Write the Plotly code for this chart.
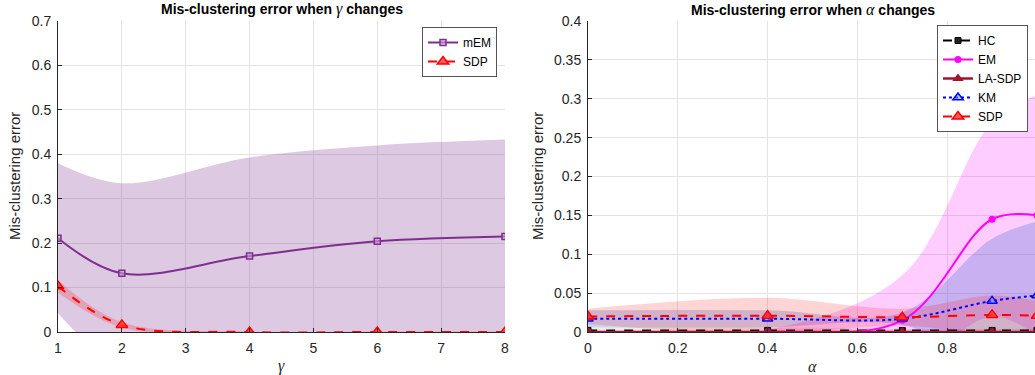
import plotly.graph_objects as go

# ---------------- data: left panel (gamma) ----------------
gamma = [1, 2, 4, 6, 8]
mem_mean = [0.211, 0.132, 0.171, 0.204, 0.215]
mem_upper = [0.380, 0.335, 0.393, 0.420, 0.433]
mem_lower = [0.042, -0.071, -0.051, -0.012, -0.003]
sdp_g_mean = [0.103, 0.016, 0.0, 0.0, 0.0]
sdp_g_upper = [0.117, 0.022, 0.001, 0.001, 0.001]
sdp_g_lower = [0.089, 0.010, -0.001, -0.001, -0.001]

# ---------------- data: right panel (alpha) ----------------
alpha = [0.0, 0.4, 0.7, 0.9, 1.0]
hc_mean = [0.002, 0.002, 0.002, 0.002, 0.002]
hc_upper = [0.006, 0.006, 0.004, 0.004, 0.004]
hc_lower = [-0.002, -0.002, 0.0, 0.0, 0.0]
em_mean = [0.0, 0.0, 0.015, 0.145, 0.150]
em_upper = [0.0, 0.003, 0.073, 0.270, 0.305]
em_lower = [0.0, -0.003, -0.043, 0.020, -0.005]
lasdp_mean = [0.0, 0.0, 0.0, 0.0, 0.0]
km_mean = [0.017, 0.017, 0.017, 0.040, 0.047]
km_upper = [0.028, 0.028, 0.025, 0.120, 0.142]
km_lower = [0.006, 0.006, 0.009, -0.040, -0.048]
sdp_a_mean = [0.020, 0.021, 0.019, 0.022, 0.021]
sdp_a_upper = [0.030, 0.044, 0.030, 0.047, 0.040]
sdp_a_lower = [0.010, -0.002, 0.008, -0.003, 0.002]

y_ticks_left = [0, 0.1, 0.2, 0.3, 0.4, 0.5, 0.6, 0.7]
y_ticks_right = [0, 0.05, 0.1, 0.15, 0.2, 0.25, 0.3, 0.35, 0.4]
x_ticks_left = [1, 2, 3, 4, 5, 6, 7, 8]
x_ticks_right = [0, 0.2, 0.4, 0.6, 0.8, 1]

FONT = "Liberation Sans, Arial, Helvetica, sans-serif"
SERIF = "Liberation Serif, DejaVu Serif, serif"
TXT = "#262626"
W, H = 1035, 375


def px_x(p):
    return p / W


def px_y(p):
    return 1 - p / H


fig = go.Figure()


def band(x, up, lo, color, xa, ya):
    fig.add_trace(go.Scatter(x=x, y=up, mode="lines", line=dict(width=0, shape="spline"),
                             showlegend=False, hoverinfo="skip", xaxis=xa, yaxis=ya))
    fig.add_trace(go.Scatter(x=x, y=lo, mode="lines", line=dict(width=0, shape="spline"),
                             fill="tonexty", fillcolor=color, showlegend=False,
                             hoverinfo="skip", xaxis=xa, yaxis=ya))


# left bands
band(gamma, mem_upper, mem_lower, "rgba(126,47,142,0.26)", "x", "y")
band(gamma, sdp_g_upper, sdp_g_lower, "rgba(255,0,0,0.2)", "x", "y")

# right bands
band(alpha, hc_upper, hc_lower, "rgba(0,0,0,0.08)", "x2", "y2")
band(alpha, em_upper, em_lower, "rgba(255,0,255,0.2)", "x2", "y2")
band(alpha, km_upper, km_lower, "rgba(40,90,200,0.25)", "x2", "y2")
band(alpha, sdp_a_upper, sdp_a_lower, "rgba(255,0,0,0.17)", "x2", "y2")

# left lines
fig.add_trace(go.Scatter(x=gamma, y=mem_mean, name="mEM", mode="lines+markers",
                         line=dict(color="#7E2F8E", width=2, shape="spline"),
                         marker=dict(symbol="square", size=6, color="rgba(200,160,210,0.6)",
                                     line=dict(color="#7E2F8E", width=1.5)),
                         xaxis="x", yaxis="y", legend="legend"))
fig.add_trace(go.Scatter(x=gamma, y=sdp_g_mean, name="SDP", mode="lines+markers",
                         line=dict(color="#FF0000", width=2, dash="dash", shape="spline"),
                         marker=dict(symbol="triangle-up", size=10, color="rgba(255,60,60,0.85)",
                                     line=dict(color="#FF0000", width=1.5)),
                         xaxis="x", yaxis="y", legend="legend"))

# right lines
fig.add_trace(go.Scatter(x=alpha, y=hc_mean, name="HC", mode="lines+markers",
                         line=dict(color="#000000", width=2, dash="dash", shape="spline"),
                         marker=dict(symbol="square", size=6, color="#222222",
                                     line=dict(color="#000000", width=1)),
                         xaxis="x2", yaxis="y2", legend="legend2"))
fig.add_trace(go.Scatter(x=alpha, y=em_mean, name="EM", mode="lines+markers",
                         line=dict(color="#FF00FF", width=2, shape="spline"),
                         marker=dict(symbol="circle", size=7, color="#FF00FF"),
                         xaxis="x2", yaxis="y2", legend="legend2"))
fig.add_trace(go.Scatter(x=alpha, y=lasdp_mean, name="LA-SDP", mode="lines+markers",
                         line=dict(color="#A2142F", width=2.5, shape="spline"),
                         marker=dict(symbol="triangle-up", size=10, color="#A2142F"),
                         xaxis="x2", yaxis="y2", legend="legend2"))
fig.add_trace(go.Scatter(x=alpha, y=km_mean, name="KM", mode="lines+markers",
                         line=dict(color="#0000FF", width=2, dash="dot", shape="spline"),
                         marker=dict(symbol="triangle-up", size=9, color="rgba(120,140,255,0.5)",
                                     line=dict(color="#0000FF", width=1.5)),
                         xaxis="x2", yaxis="y2", legend="legend2"))
fig.add_trace(go.Scatter(x=alpha, y=sdp_a_mean, name="SDP", mode="lines+markers",
                         line=dict(color="#FF0000", width=2, dash="dash", shape="spline"),
                         marker=dict(symbol="triangle-up", size=10, color="rgba(255,60,60,0.85)",
                                     line=dict(color="#FF0000", width=1.5)),
                         xaxis="x2", yaxis="y2", legend="legend2"))

# layout geometry (screen pixels)
L_X0, L_X1 = 58, 505
R_X0, R_X1 = 588, 1037
Y_TOP, Y_BOT = 21, 332
ydom = [px_y(Y_BOT), px_y(Y_TOP)]

axis_common = dict(showgrid=True, gridcolor="#E3E3E3", gridwidth=1, zeroline=False,
                   showline=True, linecolor=TXT, linewidth=1, ticks="inside", ticklen=4,
                   tickcolor=TXT, tickfont=dict(family=FONT, size=14, color=TXT),
                   automargin=False, mirror=False, ticklabelstandoff=3)

leg_common = dict(xanchor="right", yanchor="top", bgcolor="white", bordercolor="#555555",
                  borderwidth=1, font=dict(family=FONT, size=12, color="#000000"),
                  tracegroupgap=0, itemwidth=30, traceorder="normal")

fig.update_layout(
    width=W, height=H,
    margin=dict(l=0, r=0, t=0, b=0),
    paper_bgcolor="white", plot_bgcolor="white",
    font=dict(family=FONT, size=14, color=TXT),
    xaxis=dict(domain=[px_x(L_X0), px_x(L_X1)], range=[1, 8], tickvals=x_ticks_left,
               anchor="y", **axis_common),
    yaxis=dict(domain=ydom, range=[0, 0.7], tickvals=y_ticks_left, anchor="x", **axis_common),
    xaxis2=dict(domain=[px_x(R_X0), 1.0], range=[0, (1035 - R_X0) / (R_X1 - R_X0)],
                tickvals=x_ticks_right, anchor="y2", **axis_common),
    yaxis2=dict(domain=ydom, range=[0, 0.4], tickvals=y_ticks_right, anchor="x2", **axis_common),
    legend=dict(x=px_x(497), y=px_y(27), **leg_common),
    legend2=dict(x=px_x(1028), y=px_y(25), **leg_common),
    showlegend=True,
)


def greek(ch, size):
    return ("<span style='font-family:" + SERIF + ";font-size:" + str(size) + "px'><i>"
            + ch + "</i></span>")


annots = [
    dict(x=px_x((L_X0 + L_X1) / 2), y=px_y(9), size=14, color="#000000",
         text="<b>Mis-clustering error when </b>" + greek("γ", 16) + "<b> changes</b>"),
    dict(x=px_x((R_X0 + R_X1) / 2), y=px_y(9), size=14, color="#000000",
         text="<b>Mis-clustering error when </b>" + greek("α", 16) + "<b> changes</b>"),
    dict(x=px_x((L_X0 + L_X1) / 2), y=px_y(366), size=15, color=TXT, text=greek("γ", 16)),
    dict(x=px_x((R_X0 + R_X1) / 2), y=px_y(366), size=15, color=TXT, text=greek("α", 16)),
    dict(x=px_x(14), y=px_y(176), size=15, color=TXT, text="Mis-clustering error", textangle=-90),
    dict(x=px_x(537), y=px_y(176), size=15, color=TXT, text="Mis-clustering error", textangle=-90),
]
for a in annots:
    size = a.pop("size")
    color = a.pop("color")
    fig.add_annotation(xref="paper", yref="paper", showarrow=False, xanchor="center",
                       yanchor="middle", font=dict(family=FONT, size=size, color=color), **a)

fig.write_html("out.html", config={"displayModeBar": False},
               post_script="document.body.style.margin='0';document.body.style.overflow='hidden';")
